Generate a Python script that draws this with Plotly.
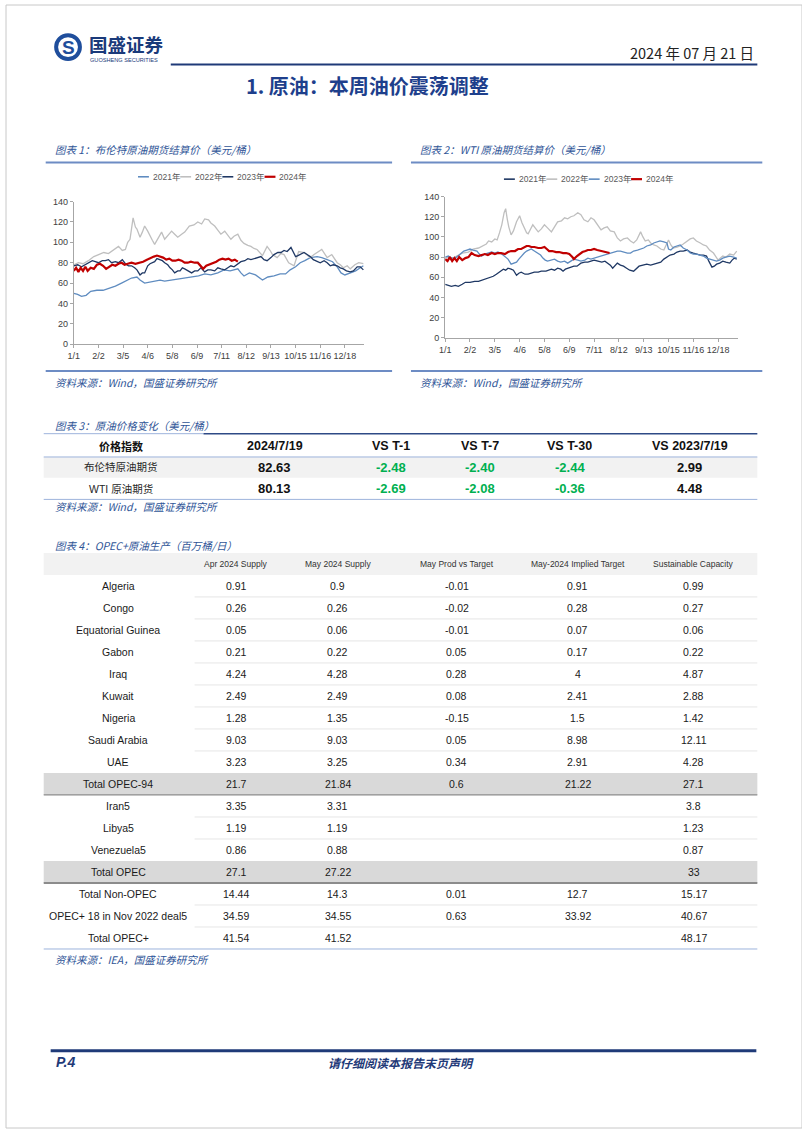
import plotly.graph_objects as go

W, H = 802, 1133

# ---------------- data ----------------
TICK_DAYS = [0, 32, 64, 96, 128, 160, 192, 224, 256, 288, 320, 352]
TICK_LABELS = ["1/1", "2/2", "3/5", "4/6", "5/8", "6/9", "7/11", "8/12", "9/13", "10/15", "11/16", "12/18"]
YEARS = ["2021年", "2022年", "2023年", "2024年"]

# (day of year, price)
BRENT_2021 = [(0,50),(5,49),(10,47),(16,48),(22,52),(30,53),(38,53),(46,55),(54,57),(62,60),(68,62),(75,65),(82,66),(86,63),(92,60),(98,61),(105,62),(112,63),(118,62),(126,63),(135,64),(144,65),(153,66),(162,67),(170,69),(178,68),(187,70),(195,73),(203,72),(213,74),(217,70),(221,67),(228,70),(236,68),(245,63),(252,66),(260,67),(268,69),(275,69),(281,73),(288,76),(294,80),(300,82),(307,85),(316,86),(322,85),(329,83),(336,81),(342,76),(347,70),(352,68),(359,70),(366,72),(372,75),(376,77)]
BRENT_2022 = [(0,78),(6,80),(12,79),(19,82),(26,86),(32,88),(39,90),(45,89),(52,93),(58,96),(63,92),(67,93),(70,100),(73,103),(77,124),(80,115),(82,113),(86,105),(89,110),(92,116),(96,111),(99,106),(102,102),(105,98),(110,105),(114,110),(118,103),(122,107),(127,111),(131,108),(135,105),(140,108),(144,110),(150,116),(156,117),(161,120),(166,118),(170,123),(175,122),(178,119),(183,116),(187,112),(191,108),(196,111),(200,107),(204,103),(208,106),(213,108),(217,102),(221,99),(226,97),(230,96),(234,94),(238,93),(245,87),(251,96),(255,92),(258,88),(264,85),(269,89),(273,88),(279,80),(286,77),(292,91),(299,90),(303,87),(307,85),(312,88),(316,90),(322,93),(329,85),(335,88),(342,80),(346,78),(350,75),(355,77),(359,74),(365,78),(370,80),(376,79)]
BRENT_2023 = [(0,77),(5,78),(10,76),(15,78),(20,80),(24,82),(28,81),(32,80),(37,82),(41,82),(45,83),(49,80),(54,81),(58,80),(63,83),(67,79),(71,77),(75,77),(79,75),(82,73),(86,68),(89,70),(92,70),(96,77),(99,79),(102,80),(105,81),(108,84),(112,83),(115,82),(118,80),(122,78),(125,75),(128,73),(131,70),(135,72),(138,72),(141,75),(144,74),(149,72),(153,70),(157,72),(161,72),(165,75),(170,71),(174,73),(178,73),(183,72),(187,75),(191,74),(196,73),(200,75),(204,77),(208,76),(213,79),(217,81),(222,82),(226,84),(230,83),(234,84),(239,85),(243,86),(247,83),(251,82),(256,85),(260,88),(265,90),(269,90),(273,92),(277,91),(282,95),(285,90),(288,86),(291,87),(294,88),(299,90),(303,88),(307,86),(311,83),(316,81),(320,80),(325,82),(329,80),(333,77),(337,78),(342,77),(346,75),(350,74),(354,72),(359,71),(363,72),(368,76),(372,76),(376,73)]
BRENT_2024 = [(0,72),(3,75),(6,71),(9,75),(12,72),(15,76),(18,72),(22,75),(26,74),(30,78),(34,79),(38,77),(42,74),(46,76),(50,78),(54,77),(58,79),(62,80),(66,78),(70,79),(75,80),(80,79),(85,80),(90,81),(95,83),(100,85),(104,86),(108,87),(112,86),(116,85),(120,83),(124,84),(128,82),(132,82),(136,83),(140,82),(144,80),(148,80),(152,81),(157,80),(161,80),(165,77),(168,74),(172,77),(176,78),(181,80),(185,81),(189,83),(193,84),(197,83),(201,84),(205,82),(209,83),(213,81)]

WTI_2021 = [(0,53),(4,52),(8,51),(13,52),(17,51),(22,53),(26,55),(32,55),(38,56),(43,56),(47,57),(53,58),(58,60),(62,61),(66,63),(70,65),(75,68),(78,67),(81,69),(85,68),(88,67),(92,62),(95,64),(98,65),(103,63),(107,63),(111,64),(115,65),(120,65),(124,66),(130,66),(137,68),(141,67),(145,69),(149,68),(152,66),(155,68),(158,69),(162,70),(166,71),(170,71),(175,74),(180,75),(184,75),(188,76),(192,77),(197,76),(202,75),(206,76),(209,74),(213,72),(216,69),(219,72),(222,74),(226,72),(230,71),(234,69),(238,67),(243,66),(247,69),(250,71),(255,72),(260,73),(265,72),(269,73),(273,74),(278,75),(282,78),(286,80),(290,82),(295,83),(299,85),(303,86),(307,86),(312,87),(316,85),(320,84),(324,83),(329,82),(333,82),(337,81),(340,76),(344,70),(347,71),(350,73),(354,74),(358,76),(362,75),(367,74),(370,77),(373,79),(376,78)]
WTI_2022 = [(0,79),(5,80),(10,79),(17,82),(22,84),(30,85),(36,88),(43,89),(48,91),(53,93),(56,96),(60,95),(64,98),(67,97),(70,104),(73,112),(76,124),(78,128),(80,118),(82,110),(85,102),(88,106),(92,115),(96,121),(99,114),(102,108),(105,104),(107,103),(110,107),(113,112),(117,108),(120,105),(124,108),(128,112),(132,109),(137,105),(141,110),(145,115),(150,116),(154,119),(158,118),(162,120),(166,121),(171,124),(175,122),(179,117),(184,115),(188,119),(192,117),(196,112),(201,107),(205,109),(209,110),(213,106),(218,105),(222,99),(226,96),(230,98),(235,99),(239,96),(243,94),(247,97),(252,105),(255,100),(258,96),(262,97),(265,94),(269,92),(273,91),(278,88),(282,87),(285,92),(288,97),(291,92),(294,89),(299,90),(303,91),(307,93),(312,96),(316,98),(320,99),(324,96),(329,94),(333,92),(337,91),(341,87),(346,84),(349,80),(352,77),(355,79),(358,81),(362,80),(367,83),(372,82),(376,86)]
WTI_2023 = [(0,80),(4,81),(8,79),(13,79),(18,82),(24,86),(28,87),(32,88),(36,87),(41,86),(44,83),(47,81),(51,83),(56,84),(60,85),(64,84),(68,85),(73,83),(77,80),(81,78),(85,73),(88,74),(92,75),(95,78),(98,81),(102,84),(105,86),(108,87),(111,88),(115,86),(120,84),(123,82),(126,79),(129,77),(132,76),(137,77),(141,78),(145,76),(149,75),(154,76),(158,74),(162,76),(166,78),(171,77),(175,76),(180,77),(184,79),(188,78),(192,79),(197,80),(201,81),(205,82),(209,83),(213,84),(218,85),(222,86),(226,86),(230,85),(235,84),(239,84),(243,86),(248,87),(252,88),(256,89),(260,91),(265,92),(269,94),(273,95),(277,96),(282,95),(286,94),(288,88),(291,87),(295,90),(299,91),(303,92),(307,89),(312,87),(316,84),(320,83),(324,83),(329,82),(333,81),(337,79),(341,78),(346,77),(350,76),(354,77),(358,79),(362,80),(367,81),(372,80),(376,79)]
WTI_2024 = [(0,78),(3,76),(6,80),(9,76),(12,79),(15,76),(18,80),(22,77),(26,79),(30,80),(34,84),(38,82),(43,81),(47,82),(51,83),(55,82),(60,84),(64,83),(68,84),(72,84),(77,83),(81,85),(85,86),(90,86),(94,88),(98,88),(102,90),(105,91),(108,91),(111,90),(115,90),(120,89),(124,89),(128,90),(131,88),(134,86),(138,86),(143,85),(147,85),(152,84),(156,84),(160,83),(164,80),(166,78),(170,81),(173,83),(177,85),(181,86),(184,87),(188,87),(192,88),(196,87),(201,86),(205,85),(209,84),(212,84)]

T3_HEADER = ["价格指数", "2024/7/19", "VS T-1", "VS T-7", "VS T-30", "VS 2023/7/19"]
T3_NAMES = ["布伦特原油期货", "WTI 原油期货"]
T3_PRICE = [82.63, 80.13]
T3_VS_T1 = [-2.48, -2.69]
T3_VS_T7 = [-2.40, -2.08]
T3_VS_T30 = [-2.44, -0.36]
T3_VS_YOY = [2.99, 4.48]

T4_HEADER = ["", "Apr 2024 Supply", "May 2024 Supply", "May Prod vs Target", "May-2024 Implied Target", "Sustainable Capacity"]
T4_NAMES = ["Algeria", "Congo", "Equatorial Guinea", "Gabon", "Iraq", "Kuwait", "Nigeria", "Saudi Arabia", "UAE",
            "Total OPEC-94", "Iran5", "Libya5", "Venezuela5", "Total OPEC", "Total Non-OPEC",
            "OPEC+ 18 in Nov 2022 deal5", "Total OPEC+"]
T4_APR = [0.91, 0.26, 0.05, 0.21, 4.24, 2.49, 1.28, 9.03, 3.23, 21.7, 3.35, 1.19, 0.86, 27.1, 14.44, 34.59, 41.54]
T4_MAY = [0.9, 0.26, 0.06, 0.22, 4.28, 2.49, 1.35, 9.03, 3.25, 21.84, 3.31, 1.19, 0.88, 27.22, 14.3, 34.55, 41.52]
T4_VS_TARGET = [-0.01, -0.02, -0.01, 0.05, 0.28, 0.08, -0.15, 0.05, 0.34, 0.6, None, None, None, None, 0.01, 0.63, None]
T4_IMPLIED = [0.91, 0.28, 0.07, 0.17, 4, 2.41, 1.5, 8.98, 2.91, 21.22, None, None, None, None, 12.7, 33.92, None]
T4_CAPACITY = [0.99, 0.27, 0.06, 0.22, 4.87, 2.88, 1.42, 12.11, 4.28, 27.1, 3.8, 1.23, 0.87, 33, 15.17, 40.67, 48.17]
T4_TOTAL_ROWS = ["Total OPEC-94", "Total OPEC"]

# ---------------- style ----------------
CJK = "Noto Sans CJK SC"
SANS = "Liberation Sans, Arial, Noto Sans CJK SC"
NARROW = "Liberation Sans Narrow, Liberation Sans, Arial, Noto Sans CJK SC"
NAVY = "#1f3a78"
CAP_BLUE = "#2f5597"
RULE_BLUE = "#6d8cc4"
STEEL = "#5f8cc0"
GRAY = "#bfbfbf"
DARK = "#1f3864"
RED = "#c00000"
GREEN = "#00b050"


def X(px):
    return px / W


def Y(py):
    return 1 - py / H


shapes, ann = [], []


def hline(x0, x1, y, color, width):
    shapes.append(dict(type="line", xref="paper", yref="paper", x0=X(x0), x1=X(x1), y0=Y(y), y1=Y(y),
                       line=dict(color=color, width=width)))


def rect(x0, x1, y0, y1, fill):
    shapes.append(dict(type="rect", xref="paper", yref="paper", x0=X(x0), x1=X(x1), y0=Y(y1), y1=Y(y0),
                       fillcolor=fill, line=dict(width=0), layer="below"))


def text(px, py, s, size, color="#222222", family=SANS, xanchor="center"):
    ann.append(dict(xref="paper", yref="paper", x=X(px), y=Y(py), text=s, showarrow=False,
                    xanchor=xanchor, yanchor="middle", font=dict(size=size, color=color, family=family)))


fig = go.Figure()

# ---------------- charts ----------------
charts = [
    dict(sfx="", x0=68.3, y0=342.3, y1=198.3, px_per_day=24.83 / 32,
         series=[BRENT_2021, BRENT_2022, BRENT_2023, BRENT_2024], colors=[STEEL, GRAY, DARK, RED],
         leg_x=133, leg_y=173.3, leg_step=42.5),
    dict(sfx="2", x0=442.5, y0=335.7, y1=193.3, px_per_day=25.0 / 32,
         series=[WTI_2021, WTI_2022, WTI_2023, WTI_2024], colors=[DARK, GRAY, STEEL, RED],
         leg_x=501.7, leg_y=175.7, leg_step=42.7),
]
X_MAX = 377
axis_common = dict(showgrid=False, zeroline=False, showline=True, linecolor="#a6a6a6", linewidth=1,
                   ticks="outside", ticklen=3, tickcolor="#a6a6a6", tickangle=0,
                   tickfont=dict(family=SANS, size=9, color="#404040"))
layout_axes = {}
for c in charts:
    ax = "x" + c["sfx"]
    ay = "y" + c["sfx"]
    for name, pts, color in zip(YEARS, c["series"], c["colors"]):
        fig.add_trace(go.Scatter(x=[p[0] for p in pts], y=[p[1] for p in pts], mode="lines", name=name,
                                 line=dict(color=color, width=2.2 if color == RED else 1.3),
                                 xaxis=ax, yaxis=ay, showlegend=False, hoverinfo="skip"))
    x1 = c["x0"] + X_MAX * c["px_per_day"]
    layout_axes["xaxis" + c["sfx"]] = dict(domain=[X(c["x0"]), X(x1)], range=[0, X_MAX], tickvals=TICK_DAYS,
                                           ticktext=TICK_LABELS, anchor=ay, fixedrange=True, **axis_common)
    layout_axes["yaxis" + c["sfx"]] = dict(domain=[Y(c["y0"]), Y(c["y1"])], range=[0, 140], tick0=0, dtick=20,
                                           anchor=ax, fixedrange=True, **axis_common)
    # legend (drawn manually so the samples are short, like the original)
    for i, (name, color) in enumerate(zip(YEARS, c["colors"])):
        lx = c["leg_x"] + i * c["leg_step"]
        hline(lx, lx + 11, c["leg_y"], color, 2.2 if color == RED else 1.6)
        text(lx + 13, c["leg_y"], name, 8.5, "#595959", SANS, "left")

# chart captions, rules, sources
for left, right, num, title in [(40, 389, 1, "布伦特原油期货结算价（美元/桶）"), (408, 762, 2, "WTI 原油期货结算价（美元/桶）")]:
    text(left + 7, 145.5, "<i>图表 %d：%s</i>" % (num, title), 10.5, CAP_BLUE, CJK, "left")
    hline(left, right, 158.8, RULE_BLUE, 2)
    hline(left, right, 369.3, RULE_BLUE, 2)
    text(left + 7, 381, "<i>资料来源：Wind，国盛证券研究所</i>", 10.5, CAP_BLUE, CJK, "left")

# ---------------- header / footer ----------------
shapes.append(dict(type="rect", xref="paper", yref="paper", x0=0, x1=1, y0=0, y1=1,
                   line=dict(color="#c8c8c8", width=1), fillcolor="rgba(0,0,0,0)"))
shapes.append(dict(type="circle", xref="paper", yref="paper", x0=X(48.5), x1=X(76.5), y0=Y(56.5), y1=Y(28.5),
                   fillcolor="#1f4e9c", line=dict(width=0)))
shapes.append(dict(type="circle", xref="paper", yref="paper", x0=X(52.5), x1=X(72.5), y0=Y(52.5), y1=Y(32.5),
                   fillcolor="white", line=dict(width=0)))
text(62.5, 42.5, "<b>S</b>", 19, "#1f4e9c", SANS)
text(82, 39.5, "<b>国盛证券</b>", 18.5, "#1a3a7a", CJK, "left")
text(83, 55.5, "GUOSHENG SECURITIES", 5.6, "#1a3a7a", SANS, "left")
text(756, 47.5, "2024 年 07 月 21 日", 14.5, "#222222", CJK, "right")
hline(166, 757, 60, NAVY, 2)
text(364, 81.5, "<b>1. 原油：本周油价震荡调整</b>", 20, "#1e3f8c", CJK)

hline(45, 756, 1055, NAVY, 3)
text(48, 1066.5, "<b><i>P.4</i></b>", 14, NAVY, SANS, "left")
text(398, 1066.5, "<b><i>请仔细阅读本报告末页声明</i></b>", 12, NAVY, CJK)

# ---------------- table 3 ----------------
T3_X = [116, 271, 388, 478, 568, 689]
T3_ROW_Y = [466.5, 488]
text(47, 424.5, "<i>图表 3：原油价格变化（美元/桶）</i>", 10.5, CAP_BLUE, CJK, "left")
hline(38, 199, 432.5, "#9db3dc", 1)
hline(199, 757, 432.5, "#2e4a86", 1.6)
rect(38, 757, 456, 477, "#f2f2f2")
hline(38, 757, 456, "#9db3dc", 1)
hline(38, 757, 498.8, "#9db3dc", 1)
for j, h in enumerate(T3_HEADER):
    text(T3_X[j], 444.5, "<b>%s</b>" % h, 11 if j == 0 else 12.5, "#111111", SANS if j else CJK)
t3_cols = [T3_PRICE, T3_VS_T1, T3_VS_T7, T3_VS_T30, T3_VS_YOY]
for i, name in enumerate(T3_NAMES):
    text(T3_X[0], T3_ROW_Y[i], name, 10.5, "#262626", SANS)
    for j, col in enumerate(t3_cols):
        v = col[i]
        color = GREEN if (j > 0 and v < 0) else "#111111"
        text(T3_X[j + 1], T3_ROW_Y[i], "<b>%.2f</b>" % v, 13, color, SANS)
text(47, 506, "<i>资料来源：Wind，国盛证券研究所</i>", 10.5, CAP_BLUE, CJK, "left")

# ---------------- table 4 ----------------
T4_X = [113, 232, 334, 454, 576, 693]
ROW_TOP = 575.0
ROW_H = 22.2
text(47, 545, "<i>图表 4：OPEC+原油生产（百万桶/日）</i>", 10.5, CAP_BLUE, CJK, "left")
rect(38, 757, 553, ROW_TOP, "#f2f2f2")
for j, h in enumerate(T4_HEADER):
    if h:
        text(T4_X[j], 564, h, 8.5, "#333333", NARROW)
t4_cols = [T4_APR, T4_MAY, T4_VS_TARGET, T4_IMPLIED, T4_CAPACITY]
for i, name in enumerate(T4_NAMES):
    top = ROW_TOP + i * ROW_H
    bot = top + ROW_H
    yc = top + ROW_H / 2
    if name in T4_TOTAL_ROWS:
        rect(38, 757, top, bot, "#d9d9d9")
    text(T4_X[0], yc, name, 10.5, "#1a1a1a", NARROW)
    for j, col in enumerate(t4_cols):
        v = col[i]
        if v is not None:
            text(T4_X[j + 1], yc, "%g" % v, 10.5, "#1a1a1a", NARROW)
    if name == "Total OPEC-94":
        hline(38, 757, bot, "#8c8c8c", 1.3)
    elif name == "Total OPEC":
        hline(38, 757, bot, "#8c8c8c", 2.2)
    elif i == len(T4_NAMES) - 1:
        hline(38, 757, bot, "#9db3dc", 1)
    elif T4_NAMES[i + 1] not in T4_TOTAL_ROWS:
        hline(190, 757, bot, "#e6e6e6", 1)
text(47, 963.5, "<i>资料来源：IEA，国盛证券研究所</i>", 10.5, CAP_BLUE, CJK, "left")

fig.update_layout(width=W, height=H, autosize=False, margin=dict(l=0, r=0, t=0, b=0),
                  paper_bgcolor="white", plot_bgcolor="white", showlegend=False,
                  shapes=shapes, annotations=ann, **layout_axes)

fig.write_html("out.html", config={"displayModeBar": False, "staticPlot": True},
               post_script="document.body.style.margin='0';document.body.style.overflow='hidden';")
